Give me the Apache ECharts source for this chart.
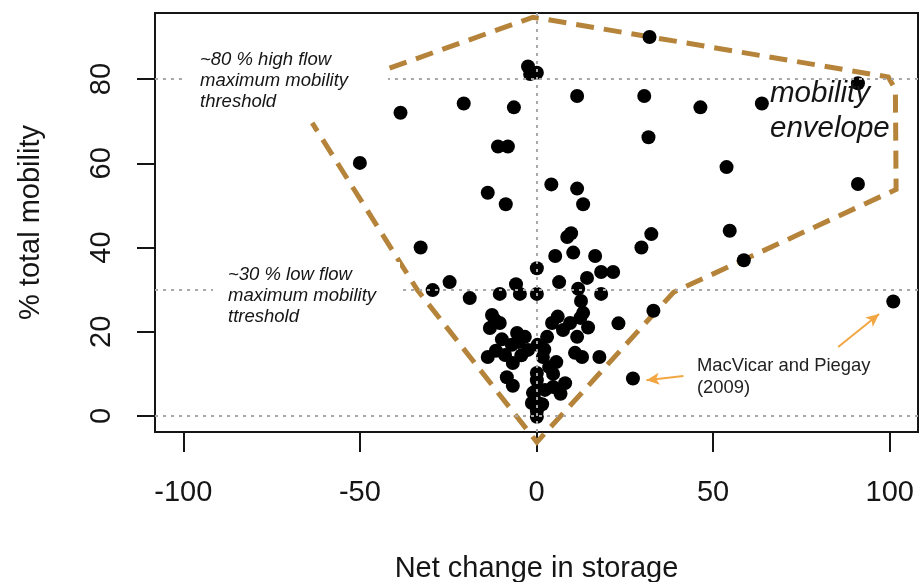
<!DOCTYPE html>
<html>
<head>
<meta charset="utf-8">
<script src="https://cdn.jsdelivr.net/npm/echarts@6/dist/echarts.min.js"></script>
<style>
  html, body { margin: 0; padding: 0; background: #fff; }
  #chart { width: 920px; height: 582px; }
</style>
</head>
<body>
<div id="chart"></div>
<script>
// Net change in storage vs. % total mobility, one dot per survey
const storageChange = [
  32, -2.4, -1.8, 0.1, -38.5, -20.6, -6.4, 11.5, 30.5, 46.4,
  63.8, 91, 31.7, -10.9, -8.1, -50, 53.8, -13.8, -8.7, 4.2,
  11.5, 13.2, 91, 8.7, 9.8, 32.5, 54.7, -32.8, 29.7, 5.3,
  10.4, 16.6, 58.7, 0.1, 6.4, 14.3, 18.3, 21.7, -24.6, -29.4,
  -18.9, -10.4, -5.8, -4.7, 0.1, 11.8, 18.3, 12.6, 33.1, 101,
  13.2, 23.2, -12.6, -10.4, -13.2, -11.8, -5.5, -3.3, -7, -2.4,
  -13.8, -8.9, -11.5, -6.7, -8.4, -6.7, 4.4, 9.5, 14.6, 7.5,
  3.0, 11.5, 0.3, 10.9, 12.9, 17.8, 1.8, 3.6, 0.1, 4.7,
  8.1, 0.1, 4.7, 0.1, -1, 2.4, 6.8, 0.1, 1.6, -1.3,
  0.1, 0.1, 27.3, -5.0, 6.0, 2.2, 5.6, -9.8, -4.3, 12.4
];
const totalMobility = [
  90, 83, 81.2, 81.5, 72, 74.2, 73.3, 76, 76, 73.3,
  74.2, 79, 66.2, 64, 64, 60.1, 59.1, 53, 50.3, 55,
  54, 50.3, 55.1, 42.5, 43.4, 43.2, 44, 40, 40, 38,
  38.8, 38, 37, 35.1, 31.8, 32.8, 34.2, 34.2, 31.8, 29.9,
  28, 29, 31.3, 29, 29, 30.2, 29, 27.3, 25, 27.2,
  24.5, 22, 24, 22.1, 20.9, 22.8, 19.7, 18.8, 16.9, 15.7,
  14, 14.5, 15.5, 12.6, 9.2, 7.2, 22.1, 22.1, 21, 20.4,
  18.8, 18.8, 16.9, 15, 14, 14, 14, 11.6, 10.2, 10,
  7.8, 8.5, 6.9, 6.2, 5.5, 6.2, 5.3, 3.3, 2.8, 3.1,
  1.2, -0.2, 8.9, 17.6, 23.6, 15.8, 12.8, 18.2, 14.4, 23.3
];

// Hand-drawn mobility envelope (open dashed outline)
const envelopeX = [-41.6, -1.0, 99.6, 101.6, 101.8, 38.8, 0.1, -33.7, -63.5];
const envelopeY = [82.6, 94.7, 80.5, 77.5, 53.8, 29.4, -6.2, 29.9, 69.6];

// Reference thresholds and axis ticks
const thresholdY = [0, 30, 80];
const thresholdX = [0];
const xTicks = [-100, -50, 0, 50, 100];
const yTicks = [0, 20, 40, 60, 80];

// Arrows from the citation label to the two highlighted surveys
const arrowStartX = [41.6, 85.4];
const arrowStartY = [9.5, 16.4];
const arrowEndX = [31.1, 97.0];
const arrowEndY = [8.5, 24.2];

const FONT = '"Liberation Sans", Arial, Helvetica, sans-serif';
const INK = '#151515';

const points = storageChange.map((x, i) => [x, totalMobility[i]]);
const envelope = envelopeX.map((x, i) => [x, envelopeY[i]]);
const thresholdLines = thresholdY.map(v => ({ yAxis: v }))
  .concat(thresholdX.map(v => ({ xAxis: v })));
const arrows = arrowStartX.map((x, i) => [
  { coord: [x, arrowStartY[i]] },
  { coord: [arrowEndX[i], arrowEndY[i]] }
]);

const chart = echarts.init(document.getElementById('chart'), null, { renderer: 'canvas' });

chart.setOption({
  animation: false,
  backgroundColor: '#fff',
  grid: {
    left: 155, right: 2, top: 13, bottom: 150,
    show: true, borderColor: INK, borderWidth: 2,
    backgroundColor: 'transparent',
    outerBoundsMode: 'none'
  },
  xAxis: {
    type: 'value', min: -108, max: 108,
    axisLine: { show: false, onZero: false },
    splitLine: { show: false },
    axisTick: { show: true, inside: false, length: 20, customValues: xTicks,
      lineStyle: { color: INK, width: 2 } },
    axisLabel: { customValues: xTicks, margin: 46, fontSize: 29, color: INK, fontFamily: FONT },
    name: 'Net change in storage', nameLocation: 'middle', nameGap: 122,
    nameTextStyle: { fontSize: 29, color: INK, fontFamily: FONT }
  },
  yAxis: {
    type: 'value', min: -3.8, max: 95.7,
    axisLine: { show: false, onZero: false },
    splitLine: { show: false },
    axisTick: { show: true, inside: false, length: 18, customValues: yTicks,
      lineStyle: { color: INK, width: 2 } },
    axisLabel: { customValues: yTicks, margin: 39, rotate: 90, fontSize: 29, color: INK, fontFamily: FONT },
    name: '% total mobility', nameLocation: 'middle', nameGap: 110,
    nameTextStyle: { fontSize: 29, color: INK, fontFamily: FONT }
  },
  series: [
    {
      name: 'envelope', type: 'line', z: 1, clip: false,
      data: envelope, showSymbol: false, symbol: 'none',
      lineStyle: { color: '#B5843A', width: 5, type: [18, 10], cap: 'butt', join: 'miter' },
      markLine: {
        silent: true, z: 5,
        symbol: ['none', 'arrow'], symbolSize: [9, 13],
        label: { show: false },
        lineStyle: { color: '#F2A743', width: 2, type: 'solid' },
        data: arrows
      }
    },
    {
      name: 'surveys', type: 'scatter', z: 2,
      data: points, symbol: 'circle', symbolSize: 14,
      itemStyle: { color: '#000', opacity: 1 }
    },
    {
      name: 'thresholds', type: 'line', z: 3, data: [],
      markLine: {
        silent: true, symbol: ['none', 'none'],
        label: { show: false },
        lineStyle: { color: '#A8A8A8', width: 2, type: [3, 5] },
        data: thresholdLines
      }
    }
  ],
  graphic: [
    { type: 'rect', z: 10, shape: { x: 187, y: 47, width: 201, height: 68 }, style: { fill: '#fff' } },
    { type: 'text', z: 11, x: 200, y: 49,
      style: { text: '~80 % high flow\nmaximum mobility\nthreshold',
        font: 'italic 18.5px ' + FONT, fill: INK, lineHeight: 21 } },
    { type: 'rect', z: 10, shape: { x: 213, y: 262, width: 187, height: 70 }, style: { fill: '#fff' } },
    { type: 'text', z: 11, x: 228, y: 264,
      style: { text: '~30 % low flow\nmaximum mobility\nttreshold',
        font: 'italic 18.5px ' + FONT, fill: INK, lineHeight: 21 } },
    { type: 'text', z: 11, x: 770, y: 76,
      style: { text: 'mobility\nenvelope',
        font: 'italic 29.5px ' + FONT, fill: INK, lineHeight: 35 } },
    { type: 'text', z: 11, x: 697, y: 355,
      style: { text: 'MacVicar and Piegay\n(2009)',
        font: '18.4px ' + FONT, fill: '#222', lineHeight: 22 } }
  ]
});
</script>
</body>
</html>
